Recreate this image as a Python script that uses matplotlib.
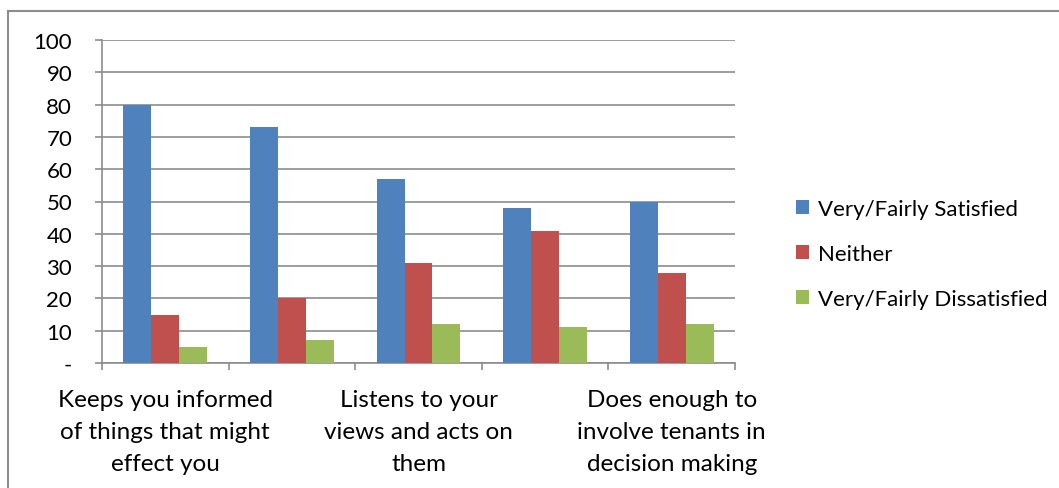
import numpy as np
import matplotlib.pyplot as plt
from matplotlib.lines import Line2D
from matplotlib.patches import Patch

# survey results, percent of tenants
categories = ['Keeps you informed\nof things that might\neffect you', '',
              'Listens to your\nviews and acts on\nthem', '',
              'Does enough to\ninvolve tenants in\ndecision making']
series = ['Very/Fairly Satisfied', 'Neither', 'Very/Fairly Dissatisfied']
satisfied = [80, 73, 57, 48, 50]
neither = [15, 20, 31, 41, 28]
dissatisfied = [5, 7, 12, 11, 12]
yticks = [0, 10, 20, 30, 40, 50, 60, 70, 80, 90, 100]
ylabels = ['-', '10', '20', '30', '40', '50', '60', '70', '80', '90', '100']

colors = ['#4F81BD', '#C0504D', '#9BBB59']
grey = '#8C8C8C'

plt.rcParams['font.family'] = ['Lato', 'DejaVu Sans']
fs = 16
fs_cat = 17.5

fig = plt.figure(figsize=(10.59, 4.89), dpi=100)
ax = fig.add_axes([102/1059, 1-364/489, (735-102)/1059, (364-41)/489])

x = np.arange(len(categories))
w = 0.221
for i, vals in enumerate([satisfied, neither, dissatisfied]):
    ax.bar(x + (i-1)*w, vals, width=w, color=colors[i], zorder=3)

ax.set_xlim(-0.5, len(categories)-0.5)
ax.set_ylim(0, 100)
ax.set_yticks(yticks)
ax.set_yticklabels(ylabels, fontsize=fs)
ax.yaxis.grid(True, color=grey, linewidth=1.2, zorder=0)
ax.set_axisbelow(True)

ax.set_xticks(x)
ax.set_xticklabels(categories, fontsize=fs_cat, linespacing=1.66)
ax.set_xticks(np.arange(-0.5, len(categories)), minor=True)
ax.tick_params(axis='x', which='major', length=0, pad=18.5)
ax.tick_params(axis='x', which='minor', length=5, width=1.2, color=grey)
ax.tick_params(axis='y', length=5, width=1.2, color=grey, pad=16.5)

for s in ['top', 'right']:
    ax.spines[s].set_visible(False)
for s in ['left', 'bottom']:
    ax.spines[s].set_color(grey)
    ax.spines[s].set_linewidth(1.2)

handles = [Patch(facecolor=c, edgecolor='none') for c in colors]
fig.legend(handles, series, loc='center left', bbox_to_anchor=(796/1059, 1-255/489),
           frameon=False, fontsize=fs, handlelength=0.6, handleheight=0.6,
           handletextpad=0.4, labelspacing=1.12, borderaxespad=0, borderpad=0)

# chart area border
fig.add_artist(Line2D([8/1059, 1], [1-12/489, 1-12/489], color=grey, linewidth=1.5,
                      transform=fig.transFigure))
fig.add_artist(Line2D([8/1059, 8/1059], [0, 1-12/489], color=grey, linewidth=1.5,
                      transform=fig.transFigure))

fig.savefig('out.png', dpi=100)
